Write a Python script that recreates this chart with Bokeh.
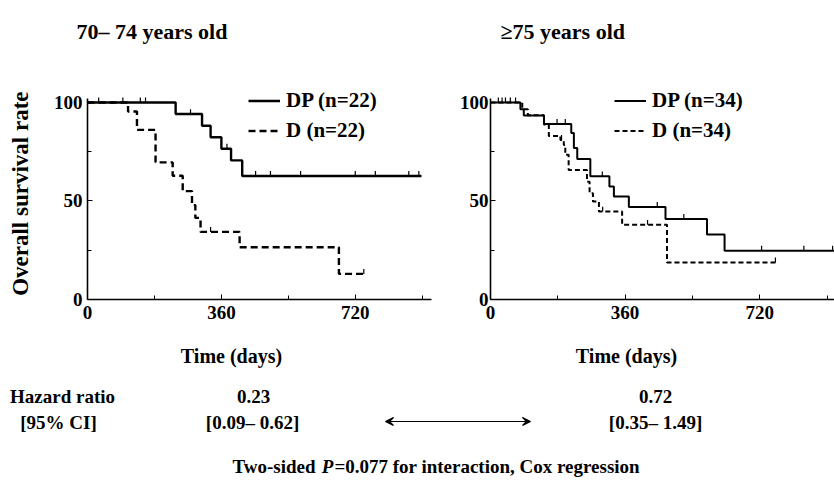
import numpy as np
from bokeh.plotting import figure
from bokeh.layouts import column, row
from bokeh.models import Range1d, FixedTicker, Label, Arrow, VeeHead, Legend, LegendItem
from bokeh.embed import file_html
from bokeh.resources import INLINE

# ---------------- data ----------------
panel_titles = ["70\u2013 74 years old", "\u226575 years old"]
y_title = "Overall survival rate"
x_title = "Time (days)"
x_ticks = [0, 360, 720]
x_minor = [180, 540, 900]
y_ticks = [0, 50, 100]
y_minor = [25, 75]

# left panel (70-74 years)
l_dp_days = [0, 237, 308, 331, 360, 386, 416, 898]
l_dp_surv = [100, 94.1, 88.2, 82.3, 76.5, 70.6, 62.7, 62.7]
l_dp_cens = [30, 95, 142, 156, 277, 375, 452, 492, 573, 720, 774, 864, 891]

l_d_days = [0, 109, 133, 183, 229, 256, 281, 290, 304, 409, 676, 743]
l_d_surv = [100, 95.4, 86.1, 69.6, 62.8, 55.0, 47.9, 41.4, 34.3, 26.5, 13.0, 13.0]
l_d_cens = [331, 743]

# right panel (>=75 years)
r_dp_days = [0, 80, 89, 143, 216, 223, 232, 267, 318, 330, 370, 468, 579, 626, 920]
r_dp_surv = [100, 96.6, 93.4, 89.1, 84.5, 76.9, 71.3, 62.5, 57.4, 52.3, 47.0, 40.9, 33.0, 24.8, 24.8]
r_dp_cens = [21, 31, 40, 53, 67, 178, 200, 299, 446, 517, 725, 838, 915]

r_d_days = [0, 85, 100, 143, 156, 187, 196, 200, 209, 258, 265, 274, 290, 352, 472, 762]
r_d_surv = [100, 96.5, 93.5, 88.8, 83.0, 81.0, 78.4, 73.4, 65.7, 59.8, 53.9, 49.7, 44.6, 37.9, 18.8, 18.8]
r_d_cens = [190, 300, 420, 762]

legend_names = ["DP", "D"]
left_n = [22, 22]
right_n = [34, 34]
hazard_ratios = ["0.23", "0.72"]
hazard_cis = ["[0.09\u2013 0.62]", "[0.35\u2013 1.49]"]

FONT = "Liberation Serif"
FS = "19px"

# layout geometry (page pixels)
TOP_STRIP = 60       # title strip height
MID_BOTTOM = 340     # page y where the survival panels end
AX_Y0 = 299          # page y of survival = 0
PX_PER_PCT = 201 / 102
Y_END = (AX_Y0 - TOP_STRIP) / PX_PER_PCT
MID_H = MID_BOTTOM - TOP_STRIP


def level_at(days, surv, t):
    idx = np.searchsorted(np.asarray(days), np.asarray(t), side="right") - 1
    return np.asarray(surv)[idx]


def page_fig(width, height, y_top, x_left=0):
    """Figure without axes whose data coordinates are page pixels."""
    f = figure(width=width, height=height, output_backend="svg", toolbar_location=None,
               x_range=Range1d(x_left, x_left + width), y_range=Range1d(y_top + height, y_top),
               x_axis_type=None, y_axis_type=None, min_border=0)
    f.outline_line_color = None
    f.grid.visible = False
    return f


def put(f, x, y, s, align="center", style="bold", size=FS, angle=0.0):
    f.add_layout(Label(x=x, y=y, text=s, text_font=FONT, text_font_style=style,
                       text_font_size=size, text_align=align, text_baseline="middle",
                       text_color="black", angle=angle))


def km_panel(width, b_left, b_right, x_end, tick_standoff):
    p = figure(width=width, height=MID_H, output_backend="svg", toolbar_location=None,
               x_range=Range1d(0, x_end), y_range=Range1d(0, Y_END),
               min_border_left=b_left, min_border_right=b_right,
               min_border_top=0, min_border_bottom=MID_BOTTOM - AX_Y0)
    p.outline_line_color = None
    p.grid.visible = False
    p.xaxis.ticker = FixedTicker(ticks=x_ticks, minor_ticks=x_minor)
    p.yaxis.ticker = FixedTicker(ticks=y_ticks, minor_ticks=y_minor)
    p.yaxis.bounds = (0, 102)
    for ax in (p.xaxis, p.yaxis):
        ax.axis_line_width = 1.6
        ax.axis_line_color = "black"
        ax.major_tick_in = 5
        ax.major_tick_out = 0
        ax.minor_tick_in = 4
        ax.minor_tick_out = 0
        ax.major_tick_line_color = "black"
        ax.minor_tick_line_color = "black"
        ax.major_label_text_font = FONT
        ax.major_label_text_font_style = "bold"
        ax.major_label_text_font_size = FS
        ax.major_label_text_color = "black"
    p.xaxis.major_label_standoff = 6
    p.yaxis.major_label_standoff = tick_standoff
    return p


def draw_curves(p, dp_days, dp_surv, dp_cens, d_days, d_surv, d_cens, lw, dash, ns, leg_x):
    r1 = p.step(dp_days, dp_surv, mode="after", line_color="black", line_width=lw)
    r2 = p.step(d_days, d_surv, mode="after", line_color="black", line_width=lw,
                line_dash=dash)
    cl = level_at(dp_days, dp_surv, dp_cens)
    p.segment(x0=dp_cens, y0=cl, x1=dp_cens, y1=cl + 2.5, line_color="black", line_width=1.2)
    cl2 = level_at(d_days, d_surv, d_cens)
    p.segment(x0=d_cens, y0=cl2, x1=d_cens, y1=cl2 + 2.5, line_color="black", line_width=1.2)
    items = [LegendItem(label=f"{legend_names[0]} (n={ns[0]})", renderers=[r1]),
             LegendItem(label=f"{legend_names[1]} (n={ns[1]})", renderers=[r2])]
    leg = Legend(items=items, location=(leg_x, 156), padding=0, margin=0,
                 border_line_color=None, background_fill_alpha=0,
                 glyph_width=32, glyph_height=23, label_standoff=6, spacing=5,
                 label_text_font=FONT, label_text_font_style="bold",
                 label_text_font_size="21px", label_text_color="black")
    p.add_layout(leg)


# ---------------- title strip ----------------
p0 = page_fig(834, TOP_STRIP, 0)
put(p0, 76, 31, panel_titles[0], align="left", size="22px")
put(p0, 500, 31, panel_titles[1], align="left", size="22px")

# ---------------- y-axis title strip ----------------
LEFT_STRIP = 40
pY = page_fig(LEFT_STRIP, MID_H, TOP_STRIP)
put(pY, 20, 216, y_title, size="23px", angle=np.pi / 2)

# ---------------- left panel ----------------
p1 = km_panel(440 - LEFT_STRIP, 87 - LEFT_STRIP, 9, 925, 5)
draw_curves(p1, l_dp_days, l_dp_surv, l_dp_cens, l_d_days, l_d_surv, l_d_cens,
            2.4, "7 4", left_n, 161)

# ---------------- right panel ----------------
p2 = km_panel(394, 50, 0, 920, 2)
draw_curves(p2, r_dp_days, r_dp_surv, r_dp_cens, r_d_days, r_d_surv, r_d_cens,
            2.0, "5 3", right_n, 124)

# ---------------- bottom text panel ----------------
p3 = page_fig(834, 488 - MID_BOTTOM, MID_BOTTOM)
put(p3, 231, 355, x_title, size="20px")
put(p3, 626, 355, x_title, size="20px")
put(p3, 62, 396, "Hazard ratio")
put(p3, 58, 422, "[95% CI]")
put(p3, 253, 396, hazard_ratios[0])
put(p3, 252, 422, hazard_cis[0])
put(p3, 655, 396, hazard_ratios[1])
put(p3, 655, 422, hazard_cis[1])
p3.add_layout(Arrow(start=VeeHead(size=8, line_width=1.1), end=VeeHead(size=8, line_width=1.1),
                    x_start=385, y_start=421, x_end=530, y_end=421,
                    line_width=1.1, line_color="black"))
put(p3, 232, 466, "Two-sided ", align="left")
put(p3, 321.2, 466, "P", align="left", style="bold italic")
put(p3, 333.9, 466, "=0.077 for interaction, Cox regression", align="left")

layout = column(p0, row(pY, p1, p2), p3)
open("out.html", "w").write(file_html(layout, INLINE))
